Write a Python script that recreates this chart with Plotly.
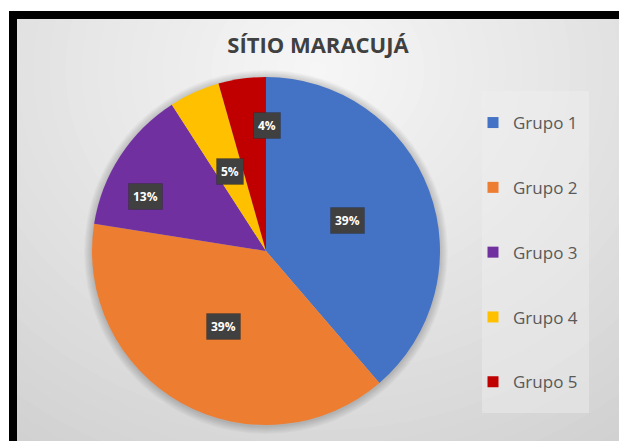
import math
import plotly.graph_objects as go

# ---- data ----
categories = ["Grupo 1", "Grupo 2", "Grupo 3", "Grupo 4", "Grupo 5"]
values = [38.7, 38.8, 13.4, 4.7, 4.4]
colors = ["#4472C4", "#ED7D31", "#7030A0", "#FFC000", "#C00000"]
title_text = "SÍTIO MARACUJÁ"

# ---- style / layout ----
W, H = 619, 441
pie_x = [0.1486, 0.7108]
pie_y = [0.0363, 0.8254]
label_radius = [0.5, 0.5, 0.76, 0.5, 0.72]
label_nudge_deg = [0, 0, -9, 0, 8.5]


def px_to_paper(x, y):
    return x / W, 1 - y / H


fig = go.Figure()

fig.add_trace(go.Pie(
    labels=categories, values=values, sort=False, direction="clockwise",
    rotation=0, marker=dict(colors=colors, line=dict(width=0)),
    textinfo="none", hoverinfo="label+percent", showlegend=False,
    domain=dict(x=pie_x, y=pie_y),
))

# legend entries via dummy traces (to control spacing)
for i, (c, col) in enumerate(zip(categories, colors)):
    fig.add_trace(go.Scatter(
        x=[None], y=[None], mode="markers", name=c, legendgroup=c,
        marker=dict(symbol="square", size=11, color=col), showlegend=True,
    ))

shapes = []

# radial gradient background
cxg, cyg = 318, 70
N = 45
Rmax = 620
c_out = (188, 188, 188)
c_in = (246, 246, 246)
for k in range(N):
    t = k / (N - 1)
    r = Rmax * (1 - t) + 8
    col = tuple(int(round(c_out[j] + (c_in[j] - c_out[j]) * (t ** 0.8))) for j in range(3))
    x0, y0 = px_to_paper(cxg - r * 1.15, cyg + r)
    x1, y1 = px_to_paper(cxg + r * 1.15, cyg - r)
    shapes.append(dict(type="circle", xref="paper", yref="paper", x0=x0, y0=y0, x1=x1, y1=y1,
                       fillcolor="rgb(%d,%d,%d)" % col, line=dict(width=0), layer="below"))

# pie soft shadow
pcx = (pie_x[0] + pie_x[1]) / 2 * W
pcy = (1 - (pie_y[0] + pie_y[1]) / 2) * H
pr = (pie_x[1] - pie_x[0]) * W / 2
for d in range(1, 9):
    r = pr + d
    x0, y0 = px_to_paper(pcx - r, pcy + r + 1)
    x1, y1 = px_to_paper(pcx + r, pcy - r + 1)
    shapes.append(dict(type="circle", xref="paper", yref="paper", x0=x0, y0=y0, x1=x1, y1=y1,
                       fillcolor="rgba(0,0,0,0.025)", line=dict(width=0), layer="below"))

# frame: white outside, black border
shapes.append(dict(type="rect", xref="paper", yref="paper", x0=0, x1=1, y0=1 - 11 / H, y1=1.05,
                   fillcolor="white", line=dict(width=0), layer="below"))
shapes.append(dict(type="rect", xref="paper", yref="paper", x0=-0.05, x1=9 / W, y0=-0.05, y1=1.05,
                   fillcolor="white", line=dict(width=0), layer="below"))
shapes.append(dict(type="rect", xref="paper", yref="paper", x0=9 / W, x1=1.05, y0=1 - 19 / H, y1=1 - 11 / H,
                   fillcolor="black", line=dict(width=0), layer="below"))
shapes.append(dict(type="rect", xref="paper", yref="paper", x0=9 / W, x1=17 / W, y0=-0.05, y1=1 - 11 / H,
                   fillcolor="black", line=dict(width=0), layer="below"))

# legend box
lx0, ly0 = px_to_paper(482, 413)
lx1, ly1 = px_to_paper(589, 91)
shapes.append(dict(type="rect", xref="paper", yref="paper", x0=lx0, x1=lx1, y0=ly0, y1=ly1,
                   fillcolor="rgba(240,240,240,0.45)", line=dict(width=0), layer="below"))

# data labels from the data
annotations = []
total = sum(values)
cum = 0
for i, v in enumerate(values):
    mid = (cum + v / 2) / total * 360 + label_nudge_deg[i]
    cum += v
    th = math.radians(mid)
    rr = pr * label_radius[i]
    lxp = pcx + rr * math.sin(th)
    lyp = pcy - rr * math.cos(th)
    ax, ay = px_to_paper(lxp, lyp)
    txt = "<b>%d%%</b>" % round(v / total * 100)
    annotations.append(dict(x=ax, y=ay, xref="paper", yref="paper", text=txt, showarrow=False,
                            xanchor="center", yanchor="middle",
                            font=dict(family="Open Sans", size=12, color="white"),
                            bgcolor="#404040", borderpad=4,
                            bordercolor="rgba(0,0,0,0.15)", borderwidth=1))

fig.update_layout(
    width=W, height=H,
    margin=dict(l=0, r=0, t=0, b=0),
    paper_bgcolor="white", plot_bgcolor="rgba(0,0,0,0)",
    title=dict(text="<b>" + title_text + "</b>", x=318 / W, xanchor="center", y=1 - 45 / H, yanchor="middle",
               font=dict(family="Open Sans", size=22, color="#404040")),
    xaxis=dict(visible=False), yaxis=dict(visible=False),
    showlegend=True,
    legend=dict(x=473 / W, xanchor="left", y=1 - 105 / H, yanchor="top",
                bgcolor="rgba(0,0,0,0)", tracegroupgap=39.7,
                font=dict(family="Open Sans", size=17, color="#595959"),
                itemclick=False, itemdoubleclick=False),
    shapes=shapes,
    annotations=annotations,
)

fig.write_html("out.html", config={"displayModeBar": False},
               post_script="document.body.style.margin='0px';document.body.style.overflow='hidden';")
